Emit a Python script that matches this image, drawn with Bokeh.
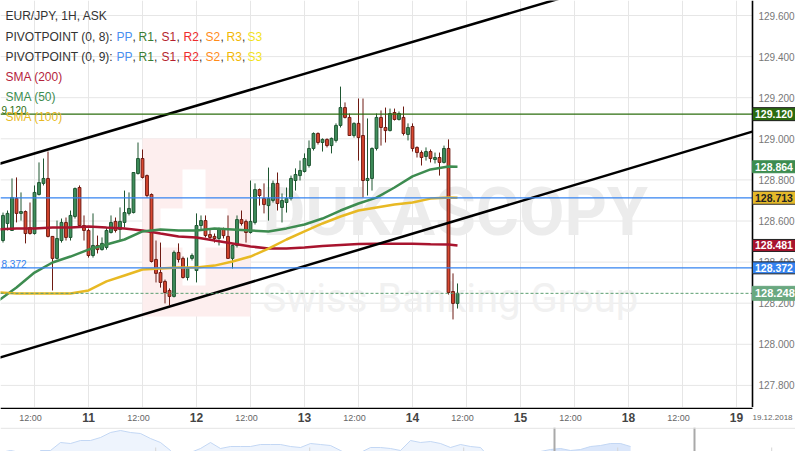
import numpy as np
from bokeh.plotting import figure
from bokeh.layouts import column
from bokeh.models import Range1d, FixedTicker, Grid, ColumnDataSource
from bokeh.core.properties import value
from bokeh.embed import file_html
from bokeh.resources import INLINE

FONT = "Liberation Sans"

# ---------------- data ----------------
# hourly bars, x = trading hours since Mon 10 Dec 2018 00:00 (weekend removed)
hours = list(range(5, 107))
opens = [128.505, 128.588, 128.554, 128.710, 128.637, 128.646, 128.568, 128.539, 128.729, 128.783,
         128.807, 128.525, 128.418, 128.505, 128.593, 128.520, 128.622, 128.763, 128.578, 128.554,
         128.432, 128.481, 128.461, 128.471, 128.544, 128.598, 128.559, 128.593, 128.637, 128.641,
         128.831, 128.904, 128.821, 128.729, 128.413, 128.349, 128.306, 128.262, 128.233, 128.447,
         128.418, 128.325, 128.418, 128.359, 128.578, 128.602, 128.534, 128.525, 128.515, 128.559,
         128.525, 128.418, 128.481, 128.607, 128.598, 128.544, 128.593, 128.753, 128.710, 128.675,
         128.700, 128.783, 128.666, 128.690, 128.710, 128.797, 128.821, 128.841, 128.870, 128.953,
         129.026, 128.982, 128.997, 128.967, 128.992, 129.065, 129.152, 129.104, 129.016, 129.075,
         129.016, 128.797, 128.807, 128.953, 129.104, 129.055, 129.040, 129.128, 129.094, 129.104,
         129.021, 129.060, 128.958, 128.933, 128.914, 128.938, 128.899, 128.909, 128.885, 128.953,
         128.257, 128.199]
highs = [128.641, 128.651, 128.807, 128.812, 128.739, 128.651, 128.690, 128.773, 128.885, 128.904,
         128.938, 128.525, 128.602, 128.612, 128.617, 128.651, 128.763, 128.773, 128.627, 128.563,
         128.637, 128.529, 128.520, 128.568, 128.627, 128.617, 128.666, 128.748, 128.739, 128.836,
         128.982, 128.948, 128.826, 128.734, 128.505, 128.495, 128.315, 128.272, 128.456, 128.491,
         128.427, 128.422, 128.442, 128.637, 128.627, 128.627, 128.563, 128.539, 128.568, 128.568,
         128.627, 128.486, 128.627, 128.651, 128.607, 128.797, 128.783, 128.758, 128.783, 128.860,
         128.797, 128.836, 128.734, 128.763, 128.821, 128.856, 128.894, 128.929, 128.992, 129.031,
         129.031, 129.002, 129.002, 129.006, 129.075, 129.254, 129.177, 129.123, 129.080, 129.196,
         129.196, 129.099, 128.958, 129.123, 129.138, 129.152, 129.147, 129.147, 129.133, 129.157,
         129.075, 129.075, 128.963, 128.943, 128.958, 128.948, 128.933, 128.933, 128.967, 128.997,
         128.345, 128.296]
lows = [128.495, 128.554, 128.554, 128.593, 128.602, 128.491, 128.534, 128.534, 128.724, 128.773,
        128.520, 128.262, 128.413, 128.495, 128.505, 128.505, 128.612, 128.568, 128.505, 128.422,
        128.422, 128.442, 128.456, 128.461, 128.539, 128.544, 128.505, 128.568, 128.627, 128.637,
        128.826, 128.807, 128.714, 128.398, 128.301, 128.276, 128.199, 128.189, 128.228, 128.398,
        128.320, 128.311, 128.408, 128.301, 128.554, 128.520, 128.505, 128.495, 128.481, 128.515,
        128.418, 128.369, 128.471, 128.578, 128.495, 128.539, 128.583, 128.675, 128.637, 128.602,
        128.690, 128.651, 128.593, 128.641, 128.700, 128.748, 128.797, 128.836, 128.860, 128.943,
        128.972, 128.938, 128.958, 128.929, 128.982, 129.055, 129.099, 129.016, 129.006, 128.894,
        128.714, 128.724, 128.748, 128.943, 128.967, 128.982, 129.036, 129.089, 129.089, 129.016,
        128.992, 128.938, 128.909, 128.870, 128.894, 128.885, 128.880, 128.821, 128.880, 128.242,
        128.121, 128.174]
closes = [128.627, 128.637, 128.714, 128.637, 128.646, 128.539, 128.539, 128.739, 128.787, 128.807,
          128.525, 128.418, 128.515, 128.593, 128.520, 128.627, 128.758, 128.578, 128.554, 128.432,
          128.481, 128.461, 128.491, 128.554, 128.593, 128.554, 128.598, 128.641, 128.661, 128.836,
          128.904, 128.812, 128.724, 128.403, 128.345, 128.301, 128.252, 128.233, 128.447, 128.413,
          128.325, 128.369, 128.432, 128.578, 128.602, 128.529, 128.520, 128.515, 128.559, 128.529,
          128.418, 128.481, 128.607, 128.588, 128.544, 128.598, 128.753, 128.724, 128.680, 128.710,
          128.783, 128.685, 128.700, 128.710, 128.807, 128.826, 128.846, 128.904, 128.953, 129.026,
          128.982, 128.997, 128.967, 129.002, 129.065, 129.152, 129.104, 129.016, 129.075, 129.006,
          128.797, 128.807, 128.953, 129.104, 129.055, 129.040, 129.123, 129.094, 129.123, 129.026,
          129.055, 128.953, 128.933, 128.909, 128.938, 128.904, 128.909, 128.885, 128.953, 128.252,
          128.199, 128.248]

sma_hours = list(range(4, 105, 4)) + [106]
sma200 = [128.559, 128.564, 128.564, 128.568, 128.568, 128.573, 128.568, 128.564, 128.554, 128.539,
          128.525, 128.520, 128.505, 128.491, 128.476, 128.466, 128.466, 128.471, 128.478, 128.483,
          128.488, 128.489, 128.489, 128.489, 128.487, 128.486, 128.481]
sma50 = [128.213, 128.276, 128.349, 128.398, 128.427, 128.461, 128.486, 128.510, 128.549, 128.559,
         128.554, 128.554, 128.564, 128.559, 128.554, 128.549, 128.564, 128.583, 128.612, 128.651,
         128.685, 128.714, 128.763, 128.817, 128.851, 128.865, 128.864]
sma100 = [128.252, 128.247, 128.247, 128.247, 128.247, 128.262, 128.306, 128.335, 128.364, 128.369,
          128.374, 128.374, 128.383, 128.403, 128.427, 128.466, 128.510, 128.549, 128.588, 128.622,
          128.651, 128.666, 128.680, 128.690, 128.709, 128.714, 128.713]

# trend channel drawn on the chart (hour, price)
chan_up_x = [0, 130]
chan_up_y = [128.851, 129.691]
chan_lo_x = [0, 171.5]
chan_lo_y = [127.907, 129.035]

pivot_r = 129.120
pivot_pp = 128.713
pivot_s = 128.372
last_price = 128.248

price_ticks = [127.8, 128.0, 128.2, 128.4, 128.6, 128.8, 129.0, 129.2, 129.4, 129.6]
day_ticks = [24, 48, 72, 96, 120, 144, 168]
day_labels = ["11", "12", "13", "14", "15", "18", "19"]
half_ticks = [12, 36, 60, 84, 108, 132, 156]
half_labels = ["12:00"] * 7
date_label = "19.12.2018"

# overview navigator (coarse price history)
nav_values = [127.5, 127.7, 127.5, 126.7, 127.7, 127.7, 128.5, 128.4, 128.7, 128.7,
              129.0, 129.5, 129.7, 129.5, 129.4, 128.9, 128.5, 127.7, 126.7, 127.5,
              127.9, 128.5, 127.9, 128.1, 128.1, 128.1, 128.3, 128.3, 128.3, 128.1,
              128.0, 128.4, 128.3, 128.2, 127.7, 127.1, 127.5, 128.0, 128.0, 127.9,
              127.7, 128.7, 128.5, 128.6, 128.4, 128.0, 128.3, 128.1, 128.0, 126.9,
              127.2, 126.7, 127.1, 127.5, 127.6, 127.8, 127.9, 127.7, 127.8, 128.1,
              128.2, 128.4, 128.4, 128.1]

# ---------------- layout constants ----------------
W = 795                                # canvas width (px)
FH = 407                               # chart height (px)
PXH = 4.5                              # px per hour
PXP = 205.5                            # px per 1.000 JPY
XA = 20 / PXH                          # hour at left edge
XE = (W + 20) / PXH                    # hour at right edge of canvas
XS = 772 / PXH                         # hour where the price scale starts (px 752)
Y1 = 129.673                           # price at top edge
Y0 = Y1 - FH / PXP                     # price at bottom edge


def sx(px):
    return XA + px / PXH


def sy(py):
    return Y1 - py / PXP


GREEN, GREEN_EDGE = "#3f8f5c", "#1e5631"
RED, RED_EDGE = "#d9472f", "#6e1a12"

# ---------------- main chart ----------------
p = figure(width=W, height=FH, x_range=Range1d(XA, XE), y_range=Range1d(Y0, Y1),
           x_axis_location=None, y_axis_location=None, toolbar_location=None,
           output_backend="svg", min_border=0,
           outline_line_color=None, background_fill_color="white", border_fill_color="white")
p.grid.visible = False
p.add_layout(Grid(dimension=0, ticker=FixedTicker(ticks=half_ticks + day_ticks),
                  grid_line_color="#e6e6e6", grid_line_width=1))
n_pt = len(price_ticks)
p.segment(x0=[XA] * n_pt, x1=[XS] * n_pt, y0=price_ticks, y1=price_ticks,
          line_color="#e6e6e6", line_width=1)

# watermark
p.quad(left=[sx(142)], right=[sx(250)], top=[sy(138)], bottom=[sy(316)],
       fill_color="#fdeeee", line_color=None)
p.quad(left=[sx(182), sx(160)], right=[sx(205), sx(227)], top=[sy(169), sy(208)],
       bottom=[sy(285), sy(247)], fill_color="white", line_color=None)
p.text(x=[sx(262)], y=[sy(212)], text=["DUKASCOPY"], text_font=value("Roboto"),
       text_font_style="bold", text_font_size="66px", text_color="#ececec",
       text_baseline="alphabetic", text_align="left")
p.text(x=[sx(262)], y=[sy(298)], text=["Swiss Banking Group"], text_font=value("Roboto"),
       text_font_size="40px", text_color="#f1f1f1", text_baseline="alphabetic", text_align="left")

# candles
o = np.array(opens)
c = np.array(closes)
up = c >= o
src = ColumnDataSource(dict(x=hours, top=list(np.maximum(o, c)), bottom=list(np.minimum(o, c)),
                            high=highs, low=lows,
                            fill=[GREEN if u else RED for u in up],
                            edge=[GREEN_EDGE if u else RED_EDGE for u in up]))
p.segment(x0="x", y0="low", x1="x", y1="high", line_color="edge", line_width=1, source=src)
p.vbar(x="x", width=0.62, top="top", bottom="bottom", fill_color="fill", line_color="edge",
       line_width=1, source=src)

# moving averages
p.line(sma_hours, sma200, line_color="#a8142e", line_width=2.5)
p.line(sma_hours, sma50, line_color="#3d8c50", line_width=2.5)
p.line(sma_hours, sma100, line_color="#e8b923", line_width=2.5)

# channel
p.line(chan_up_x, chan_up_y, line_color="black", line_width=2.5)
p.line(chan_lo_x, chan_lo_y, line_color="black", line_width=2.5)

# horizontal levels (end at the price scale)
p.segment(x0=[XA, XA, XA], x1=[XS, XS, XS], y0=[pivot_r, pivot_pp, pivot_s],
          y1=[pivot_r, pivot_pp, pivot_s], line_color=["#2d6e0e", "#3483f0", "#3483f0"],
          line_width=1.2)
p.segment(x0=[XA], x1=[XS], y0=[last_price], y1=[last_price], line_color="#5b9e70",
          line_width=1, line_dash="3 2")

# level captions at the left edge (shown cut by the chart edge in the source)
p.text(x=[sx(26), sx(26)], y=[pivot_r, pivot_s], text=["9.120", "8.372"],
       text_color=["#2d6e0e", "#3483f0"], text_font=value(FONT), text_font_size="10px",
       text_align="right", text_baseline="bottom")

# legend
leg_x, leg_y, leg_t, leg_c = [], [], [], []
leg_x.append(5); leg_y.append(15.5); leg_t.append("EUR/JPY, 1H, ASK"); leg_c.append("#333333")
tok = [("PP", "#4a8ff0", 116), ("R1", "#3a7d32", 138), ("S1", "#b51f2e", 161), ("R2", "#ee2d2d", 183),
       ("S2", "#ff8c1a", 205), ("R3", "#f2b705", 226), ("S3", "#f2e21c", 247)]
commas = [132, 153.5, 176, 198.5, 220, 241.5]
for row_y, name in [(36, "PIVOTPOINT (0, 8): "), (56, "PIVOTPOINT (0, 9): ")]:
    leg_x.append(5); leg_y.append(row_y); leg_t.append(name); leg_c.append("#333333")
    for t, col, xx in tok:
        leg_x.append(xx); leg_y.append(row_y); leg_t.append(t); leg_c.append(col)
    for xx in commas:
        leg_x.append(xx); leg_y.append(row_y); leg_t.append(","); leg_c.append("#333333")
for row_y, t, col in [(76.5, "SMA (200)", "#b5243c"), (96.5, "SMA (50)", "#3d8c50"),
                      (116.5, "SMA (100)", "#e8b923")]:
    leg_x.append(5); leg_y.append(row_y); leg_t.append(t); leg_c.append(col)
leg_src = ColumnDataSource(dict(x=[sx(v) for v in leg_x], y=[sy(v) for v in leg_y], t=leg_t, c=leg_c))
p.text(x="x", y="y", text="t", text_color="c", source=leg_src, text_font=value(FONT),
       text_font_size="12px", text_baseline="middle", text_align="left")

# ---- price scale (right) ----
p.segment(x0=[XS], x1=[XS], y0=[Y0], y1=[Y1], line_color="black", line_width=1.6)
p.text(x=[sx(758)] * n_pt, y=price_ticks, text=[f"{v:.3f}" for v in price_ticks],
       text_font=value(FONT), text_font_size="10px", text_color="#777777",
       text_align="left", text_baseline="middle")

# price tags
tag_vals = [pivot_r, sma50[-1], sma100[-1], sma200[-1], pivot_s, last_price]
tag_bg = ["#2b6b10", "#3d8c50", "#e5b92a", "#a8142e", "#3483f0", "#6aa880"]
tag_bd = ["#1c1c1c", "#3d8c50", "#333333", "#222222", "#222222", "#6aa880"]
tag_fg = ["white", "white", "#222222", "white", "white", "white"]
tag_half = [6.5, 6.0, 6.5, 6.0, 6.0, 7.0]   # half box height in px
tag_fs = ["10.5px", "10.5px", "10.5px", "10.5px", "10.5px", "11px"]
tag_src = ColumnDataSource(dict(
    y=tag_vals,
    top=[v + h / PXP for v, h in zip(tag_vals, tag_half)],
    bottom=[v - h / PXP for v, h in zip(tag_vals, tag_half)],
    bg=tag_bg, bd=tag_bd, fg=tag_fg, fs=tag_fs,
    t=[f"{v:.3f}" for v in tag_vals]))
p.quad(left=XS, right=sx(803), top="top", bottom="bottom", fill_color="bg", line_color="bd",
       line_width=1, source=tag_src)
p.text(x=sx(754.5), y="y", text="t", text_color="fg", text_font_size="fs", text_font=value(FONT),
       text_font_style="bold", text_align="left", text_baseline="middle", source=tag_src)

# ---------------- time axis strip ----------------
s = figure(width=W, height=20, x_range=Range1d(XA, XE), y_range=Range1d(0, 20),
           x_axis_location=None, y_axis_location=None, toolbar_location=None,
           output_backend="svg", min_border=0, outline_line_color=None)
s.grid.visible = False
s.line([XA, XS], [19.3, 19.3], line_color="black", line_width=1.6)
s.text(x=half_ticks, y=[10] * len(half_ticks), text=half_labels, x_offset=-4,
       text_font=value(FONT), text_font_size="9px", text_color="#666666",
       text_align="center", text_baseline="middle")
s.text(x=day_ticks, y=[10] * len(day_ticks), text=day_labels,
       text_font=value(FONT), text_font_size="12px", text_font_style="bold", text_color="#444444",
       text_align="center", text_baseline="middle")
s.text(x=[sx(752)], y=[10], text=[date_label], text_font=value(FONT), text_font_size="8px",
       text_color="#666666", text_align="left", text_baseline="middle")

# ---------------- navigator ----------------
nav_idx = list(range(len(nav_values)))
n = figure(width=W, height=24, x_range=Range1d(0, W / 10), y_range=Range1d(127.6, 130),
           x_axis_location=None, y_axis_location=None, toolbar_location=None,
           output_backend="svg", min_border=0, outline_line_color=None)
n.grid.visible = False
n.varea(x=nav_idx, y1=[126.0] * len(nav_idx), y2=nav_values, fill_color="#eef4fd")
n.varea(x=nav_idx[55:], y1=[126.0] * len(nav_idx[55:]), y2=nav_values[55:], fill_color="#dbe7fb")
n.line(nav_idx, nav_values, line_color="#c3d7f4", line_width=1)
tick_x = [3.2 + 3.08 * k for k in range(26)]
tick_top = [128.0 if k % 5 == 4 else 126.8 for k in range(26)]
n.segment(x0=tick_x, y0=[126.0] * 26, x1=tick_x, y1=tick_top, line_color="#d6d6d6", line_width=1)
n.segment(x0=[55.4, 69.4], y0=[126.0, 126.0], x1=[55.4, 69.4], y1=[130, 130],
          line_color="#a9a9a9", line_width=2)
n.line([0, W / 10], [129.93, 129.93], line_color="#e0e0e0", line_width=1)

layout = column(p, s, n)
open("out.html", "w").write(file_html(layout, INLINE))
